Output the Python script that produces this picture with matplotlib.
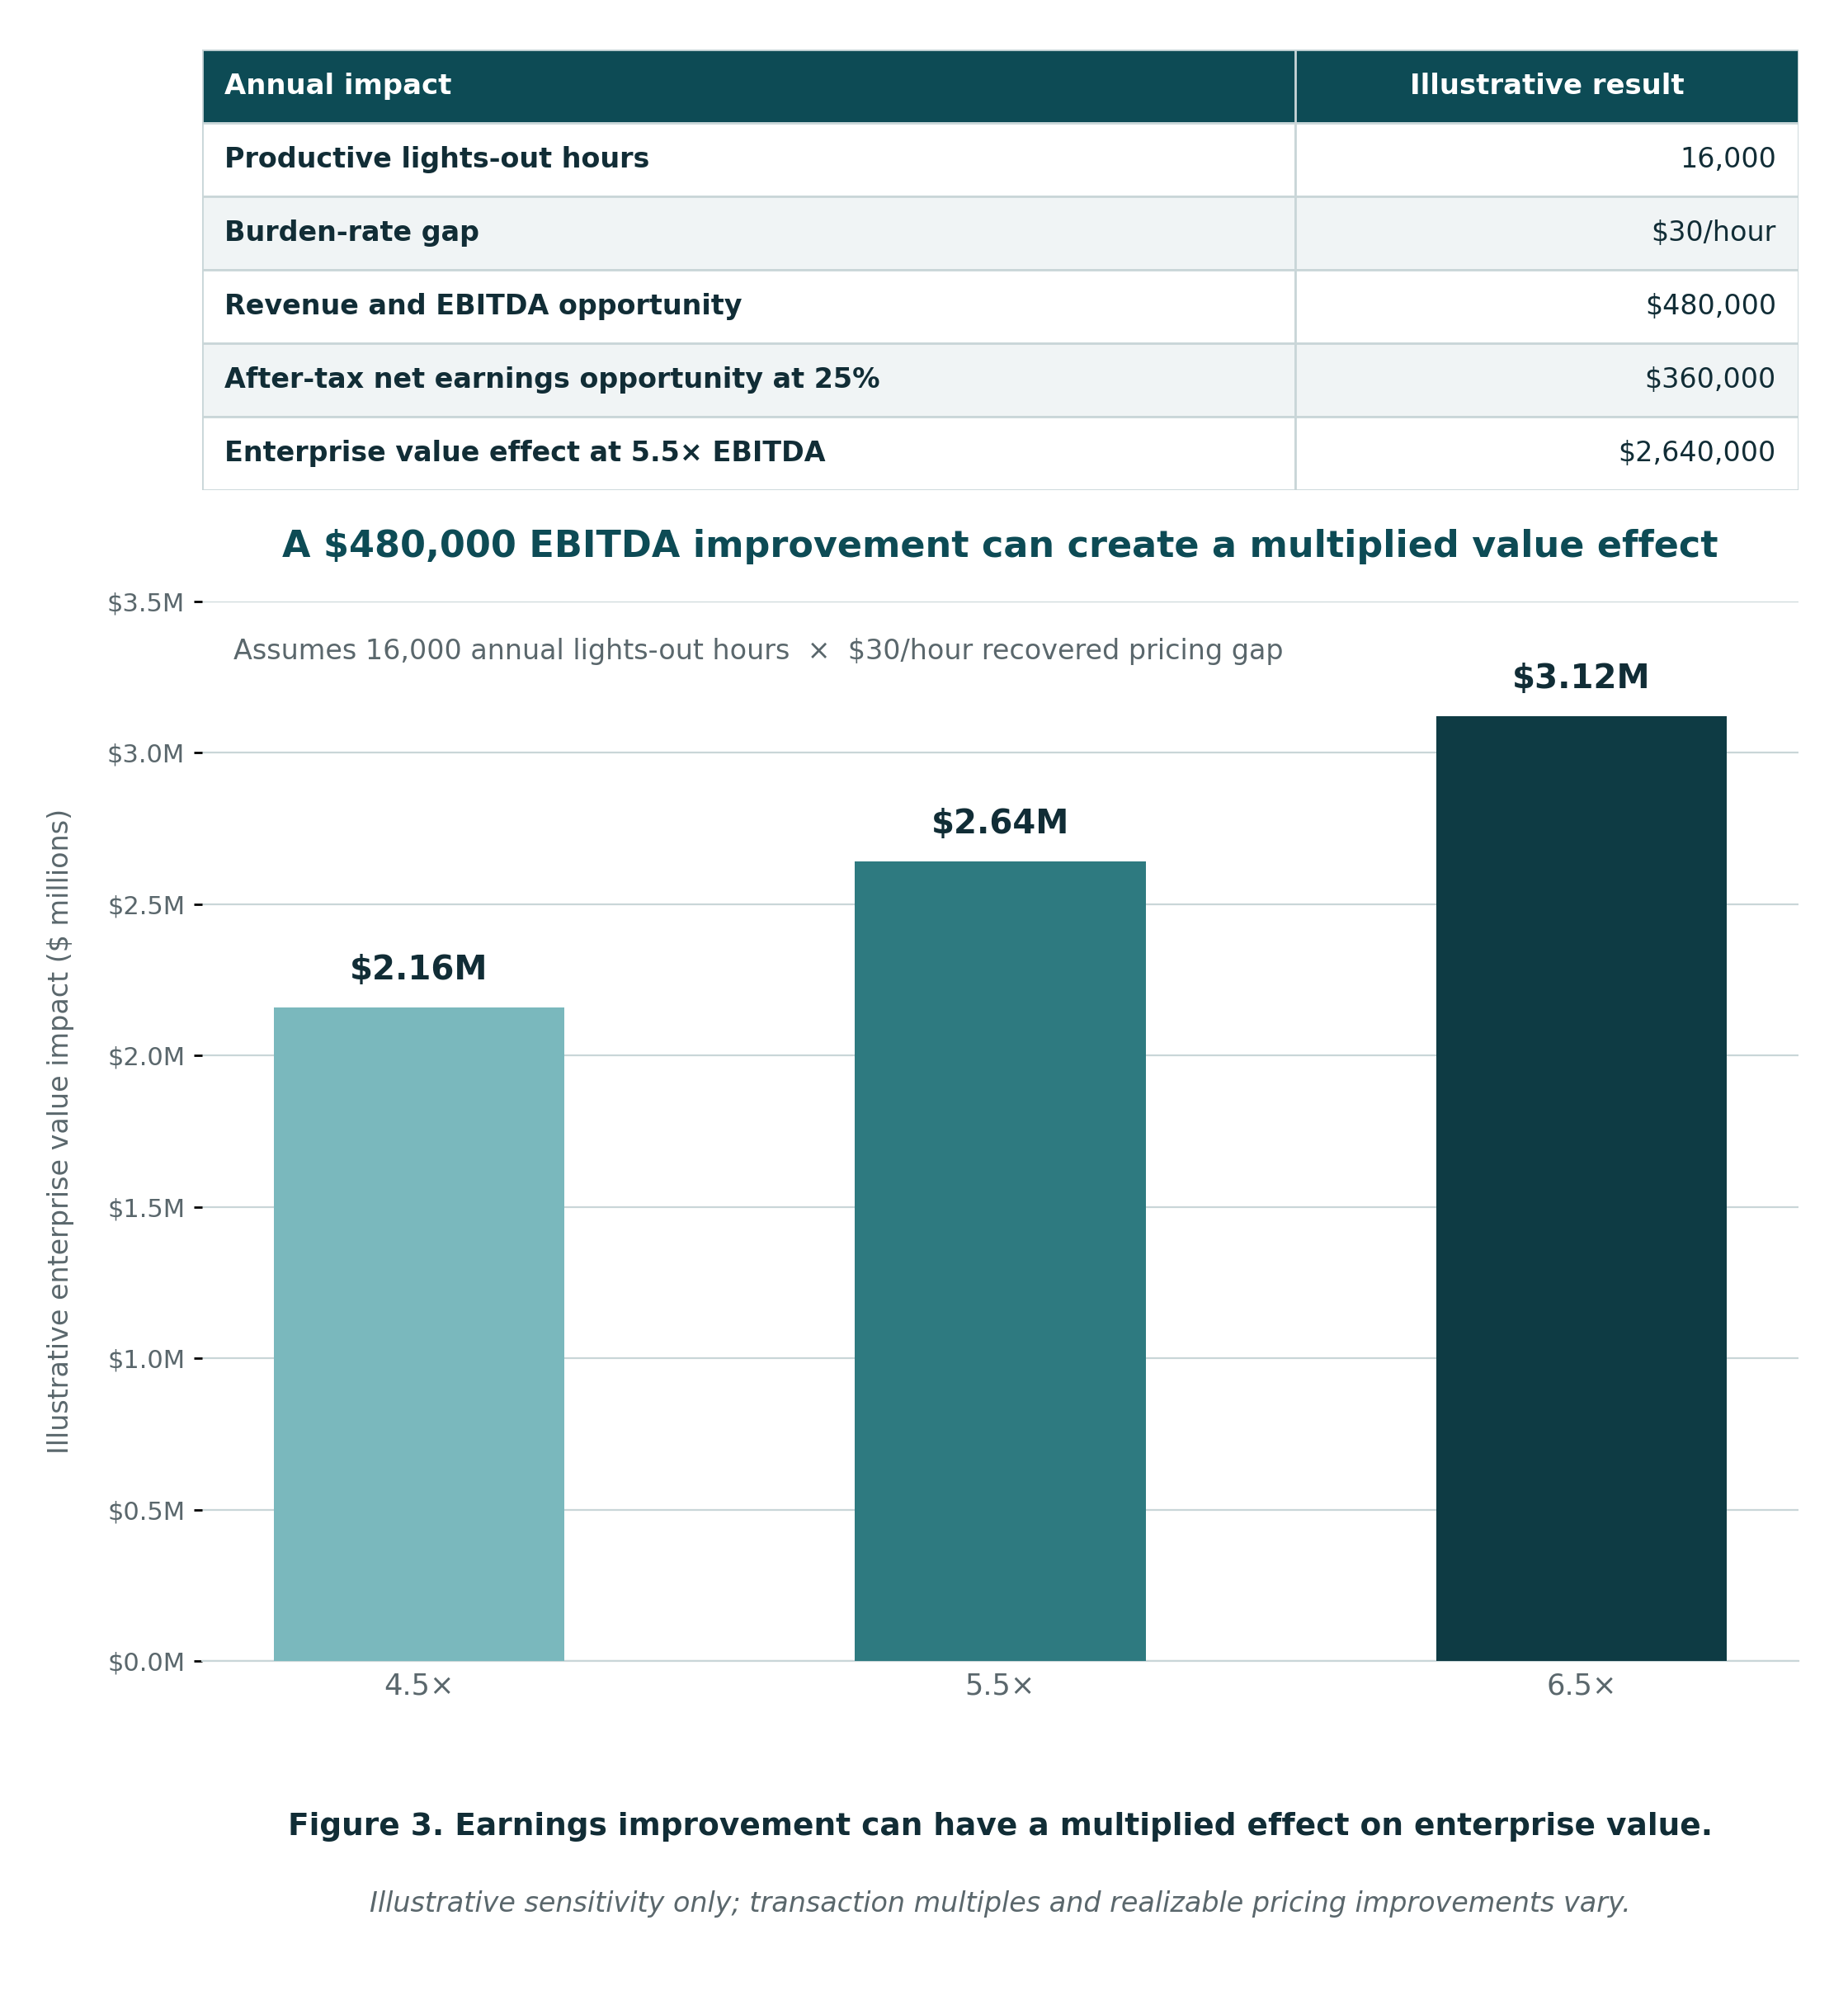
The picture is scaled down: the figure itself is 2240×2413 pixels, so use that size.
import matplotlib
matplotlib.use("Agg")
import matplotlib.pyplot as plt
from matplotlib.patches import Rectangle

# table content
table_header = ["Annual impact", "Illustrative result"]
table_rows = [
    "Productive lights-out hours",
    "Burden-rate gap",
    "Revenue and EBITDA opportunity",
    "After-tax net earnings opportunity at 25%",
    "Enterprise value effect at 5.5\u00d7 EBITDA",
]
table_values = ["16,000", "$30/hour", "$480,000", "$360,000", "$2,640,000"]

# chart data
multiples = ["4.5\u00d7", "5.5\u00d7", "6.5\u00d7"]
ev_impact = [2.16, 2.64, 3.12]
bar_labels = ["$2.16M", "$2.64M", "$3.12M"]
yticks = [0.0, 0.5, 1.0, 1.5, 2.0, 2.5, 3.0, 3.5]

TEAL_DARK = "#0d4b55"
TEXT_DARK = "#112d36"
GRAY = "#5a676c"
LINE = "#c9d6d8"
ROW_ALT = "#f0f4f5"
bar_colors = ["#7ab8bd", "#2e7a80", "#0e3b44"]

fig = plt.figure(figsize=(11.2, 12.065), dpi=200)
fig.patch.set_facecolor("white")

# ---- table ----
tx0, tx1 = 245 / 2240, 2180 / 2240
ty0, ty1 = 1 - 594 / 2413, 1 - 60 / 2413
tab = fig.add_axes([tx0, ty0, tx1 - tx0, ty1 - ty0])
tab.set_xlim(0, 1)
n = len(table_rows) + 1
tab.set_ylim(n, 0)
tab.axis("off")
split = (1570 - 245) / (2180 - 245)
padx = 27 / (2180 - 245)

tab.add_patch(Rectangle((0, 0), 1, 1, facecolor=TEAL_DARK, edgecolor=LINE, lw=1.0))
tab.plot([split, split], [0, 1], color=LINE, lw=1.0)
tab.text(padx, 0.5, table_header[0], color="white", fontsize=12.2,
         fontweight="bold", va="center", ha="left")
tab.text((split + 1) / 2, 0.5, table_header[1], color="white", fontsize=12.2,
         fontweight="bold", va="center", ha="center")

for i, (lab, val) in enumerate(zip(table_rows, table_values)):
    r = i + 1
    fc = ROW_ALT if i % 2 == 1 else "white"
    tab.add_patch(Rectangle((0, r), split, 1, facecolor=fc, edgecolor=LINE, lw=1.0))
    tab.add_patch(Rectangle((split, r), 1 - split, 1, facecolor=fc, edgecolor=LINE, lw=1.0))
    tab.text(padx, r + 0.5, lab, color=TEXT_DARK, fontsize=12,
             fontweight="bold", va="center", ha="left")
    tab.text(1 - padx, r + 0.5, val, color=TEXT_DARK, fontsize=12,
             va="center", ha="right")

# ---- bar chart ----
ax_b, ax_t = 1 - 2013 / 2413, 1 - 729 / 2413
ax = fig.add_axes([tx0, ax_b, tx1 - tx0, ax_t - ax_b])
x = range(len(multiples))
bars = ax.bar(x, ev_impact, width=0.5, color=bar_colors, zorder=3)
ax.set_xlim(-0.373, len(multiples) - 1 + 0.373)
ax.set_ylim(0, 3.5)
ax.set_yticks(yticks)
ax.set_yticklabels([f"${v:.1f}M" for v in yticks])
ax.set_xticks(list(x))
ax.set_xticklabels(multiples)
ax.tick_params(axis="y", colors="black", labelcolor=GRAY, labelsize=11,
               length=3.5, width=1.0, pad=4)
ax.tick_params(axis="x", length=0, labelcolor=GRAY, labelsize=12.7, pad=5)
ax.grid(axis="y", color=LINE, lw=0.8, zorder=0)
for s in ["top", "right", "left"]:
    ax.spines[s].set_visible(False)
ax.spines["bottom"].set_color(LINE)
ax.spines["bottom"].set_linewidth(0.8)

for b, lab in zip(bars, bar_labels):
    ax.annotate(lab, (b.get_x() + b.get_width() / 2, b.get_height()),
                xytext=(0, 9), textcoords="offset points", ha="center",
                va="bottom", fontsize=14.5, fontweight="bold", color=TEXT_DARK)

fig.text(74 / 2240, (ax_b + ax_t) / 2, "Illustrative enterprise value impact ($ millions)",
         rotation=90, ha="center", va="center", fontsize=12, color=GRAY)

cx = (tx0 + tx1) / 2
fig.text(cx, 1 - 662 / 2413, "A $480,000 EBITDA improvement can create a multiplied value effect",
         ha="center", va="center", fontsize=16, fontweight="bold", color=TEAL_DARK)
fig.text(283 / 2240, 1 - 790 / 2413,
         "Assumes 16,000 annual lights-out hours  \u00d7  $30/hour recovered pricing gap",
         ha="left", va="center", fontsize=12, color=GRAY)
fig.text(cx, 1 - 2214 / 2413,
         "Figure 3. Earnings improvement can have a multiplied effect on enterprise value.",
         ha="center", va="center", fontsize=13.5, fontweight="bold", color=TEXT_DARK)
fig.text(cx, 1 - 2308 / 2413,
         "Illustrative sensitivity only; transaction multiples and realizable pricing improvements vary.",
         ha="center", va="center", fontsize=12, style="italic", color=GRAY)

fig.savefig("out.png", dpi=200)
